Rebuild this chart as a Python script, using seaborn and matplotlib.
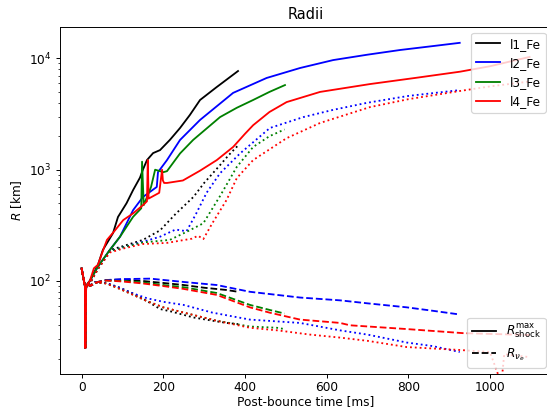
import matplotlib
matplotlib.use("Agg")
import matplotlib.pyplot as plt
from matplotlib.lines import Line2D
import seaborn as sns

# values (time in ms, radius in km)
early_t = [0, 4, 8, 9, 11, 15]
early_r = [130, 108, 90, 25, 88, 95]

# l1_Fe
t_max_l1 = [20, 40, 52, 77, 89, 110, 126, 143, 150, 160, 175, 192, 216, 241, 265, 290, 330, 383]
r_max_l1 = [100, 140, 190, 270, 376, 500, 656, 850, 1000, 1220, 1410, 1500, 1850, 2370, 3100, 4230, 5500, 7700]
t_min_l1 = [20, 40, 69, 100, 150, 192, 230, 274, 300, 339, 360, 383]
r_min_l1 = [95, 130, 190, 205, 234, 285, 400, 570, 760, 1100, 1350, 1650]
t_nue_l1 = [20, 40, 60, 100, 150, 200, 250, 300, 355, 383]
r_nue_l1 = [90, 98, 102, 103, 100, 96, 92, 87, 83, 80]
t_nux_l1 = [18, 33, 60, 90, 123, 160, 192, 221, 274, 320, 355, 383]
r_nux_l1 = [90, 98, 96, 88, 78, 66, 56, 53, 47, 44, 42, 41]

# l2_Fe
t_max_l2 = [20, 40, 69, 94, 126, 150, 184, 187, 209, 241, 290, 371, 453, 535, 616, 700, 780, 860, 926]
r_max_l2 = [100, 135, 190, 250, 433, 568, 700, 950, 1220, 1850, 2800, 4900, 6670, 8200, 9660, 10800, 11900, 12900, 13800]
t_min_l2 = [20, 40, 69, 100, 150, 192, 230, 257, 280, 306, 339, 388, 461, 543, 616, 699, 800, 926]
r_min_l2 = [95, 130, 185, 200, 225, 250, 290, 280, 400, 620, 930, 1400, 2370, 2970, 3450, 3990, 4600, 5190]
t_nue_l2 = [20, 40, 60, 100, 168, 250, 331, 412, 535, 633, 700, 796, 860, 926]
r_nue_l2 = [90, 98, 102, 104, 105, 98, 92, 80, 71, 67, 63, 58, 54, 50]
t_nux_l2 = [18, 33, 60, 90, 123, 160, 200, 249, 320, 412, 535, 633, 700, 796, 860, 926]
r_nux_l2 = [90, 98, 96, 88, 78, 70, 65, 61, 52, 45, 42, 36, 33, 28, 26, 23]

# l3_Fe
t_max_l3 = [20, 40, 69, 94, 126, 146, 148, 152, 170, 180, 200, 209, 241, 273, 339, 380, 420, 460, 498]
r_max_l3 = [100, 135, 190, 250, 377, 450, 1180, 480, 700, 1000, 950, 970, 1400, 1850, 2970, 3600, 4230, 5000, 5760]
t_min_l3 = [20, 40, 69, 100, 150, 216, 260, 298, 339, 380, 420, 460, 497]
r_min_l3 = [95, 128, 185, 200, 222, 234, 280, 330, 580, 1060, 1600, 2000, 2300]
t_nue_l3 = [20, 40, 60, 100, 150, 200, 249, 331, 412, 460, 497]
r_nue_l3 = [90, 98, 101, 100, 97, 92, 88, 78, 61, 55, 51]
t_nux_l3 = [18, 33, 60, 90, 123, 160, 200, 250, 330, 412, 478, 497]
r_nux_l3 = [90, 97, 95, 86, 76, 66, 58, 52, 44, 39, 38, 37]

# l4_Fe
t_max_l4 = [20, 30, 40, 55, 62, 80, 102, 126, 150, 160, 162, 164, 190, 197, 199, 202, 209, 248, 290,
            331, 371, 400, 420, 460, 502, 584, 706, 820, 927, 1000, 1065, 1097]
r_max_l4 = [100, 130, 140, 200, 234, 280, 353, 405, 480, 520, 1220, 550, 620, 1000, 800, 760, 760, 800, 980,
            1220, 1600, 2100, 2510, 3300, 4050, 5000, 5880, 6700, 7600, 8500, 9680, 10300]
t_min_l4 = [20, 40, 69, 100, 150, 209, 270, 285, 298, 320, 355, 380, 420, 502, 584, 706, 800, 927, 1000, 1097]
r_min_l4 = [95, 128, 180, 195, 215, 220, 240, 255, 238, 330, 535, 840, 1220, 1920, 2630, 3650, 4300, 5100, 5600, 6200]
t_nue_l4 = [20, 40, 60, 100, 150, 200, 249, 331, 412, 460, 535, 633, 657, 796, 934, 1097]
r_nue_l4 = [90, 98, 101, 99, 95, 90, 85, 75, 58, 52, 45, 42, 40, 37, 34, 32.7]
t_nux_l4 = [18, 33, 60, 90, 123, 160, 200, 250, 330, 412, 480, 559, 633, 700, 796, 926, 1000, 1028, 1035, 1097]
r_nux_l4 = [90, 97, 95, 86, 76, 66, 58, 52, 44, 38, 36, 33, 31, 29, 25.5, 24, 23, 12, 22, 20.7]

labels = ["l1_Fe", "l2_Fe", "l3_Fe", "l4_Fe"]
colors = ["black", "blue", "green", "red"]

models = [
    (t_max_l1, r_max_l1, t_min_l1, r_min_l1, t_nue_l1, r_nue_l1, t_nux_l1, r_nux_l1),
    (t_max_l2, r_max_l2, t_min_l2, r_min_l2, t_nue_l2, r_nue_l2, t_nux_l2, r_nux_l2),
    (t_max_l3, r_max_l3, t_min_l3, r_min_l3, t_nue_l3, r_nue_l3, t_nux_l3, r_nux_l3),
    (t_max_l4, r_max_l4, t_min_l4, r_min_l4, t_nue_l4, r_nue_l4, t_nux_l4, r_nux_l4),
]

dpi = 87.5
fig = plt.figure(figsize=(547 / dpi, 411 / dpi), dpi=dpi)
# the reference is cut off on the right, so the axes run past the figure edge
ax = fig.add_axes([60 / 547, 37 / 411, 492 / 547, 347.3 / 411])


def draw(t, r, color, ls):
    sns.lineplot(x=early_t + t, y=early_r + r, ax=ax, color=color, linestyle=ls,
                 estimator=None, sort=False, linewidth=1.5)


for (tmx, rmx, tmn, rmn, tne, rne, tnx, rnx), c in zip(models, colors):
    draw(tmx, rmx, c, "-")
    draw(tmn, rmn, c, ":")
    draw(tne, rne, c, "--")
    draw(tnx, rnx, c, ":")

ax.set_yscale("log")
ax.set_xlim(-53, 1152)
ax.set_ylim(14.6, 19270)
ax.set_title("Radii")
ax.set_xlabel("Post-bounce time [ms]", labelpad=1)
ax.set_ylabel("$R$ [km]")
ax.tick_params(axis="x", pad=2.5)

model_handles = [Line2D([], [], color=c, lw=1.5) for c in colors]
leg1 = ax.legend(model_handles, labels, loc="upper right")
ax.add_artist(leg1)
kind_handles = [Line2D([], [], color="black", lw=1.5, ls="-"),
                Line2D([], [], color="black", lw=1.5, ls="--")]
ax.legend(kind_handles, [r"$R_{\rm shock}^{\rm max}$", r"$R_{\nu_e}$"], loc="lower right")

fig.savefig("out.png", dpi=dpi)
